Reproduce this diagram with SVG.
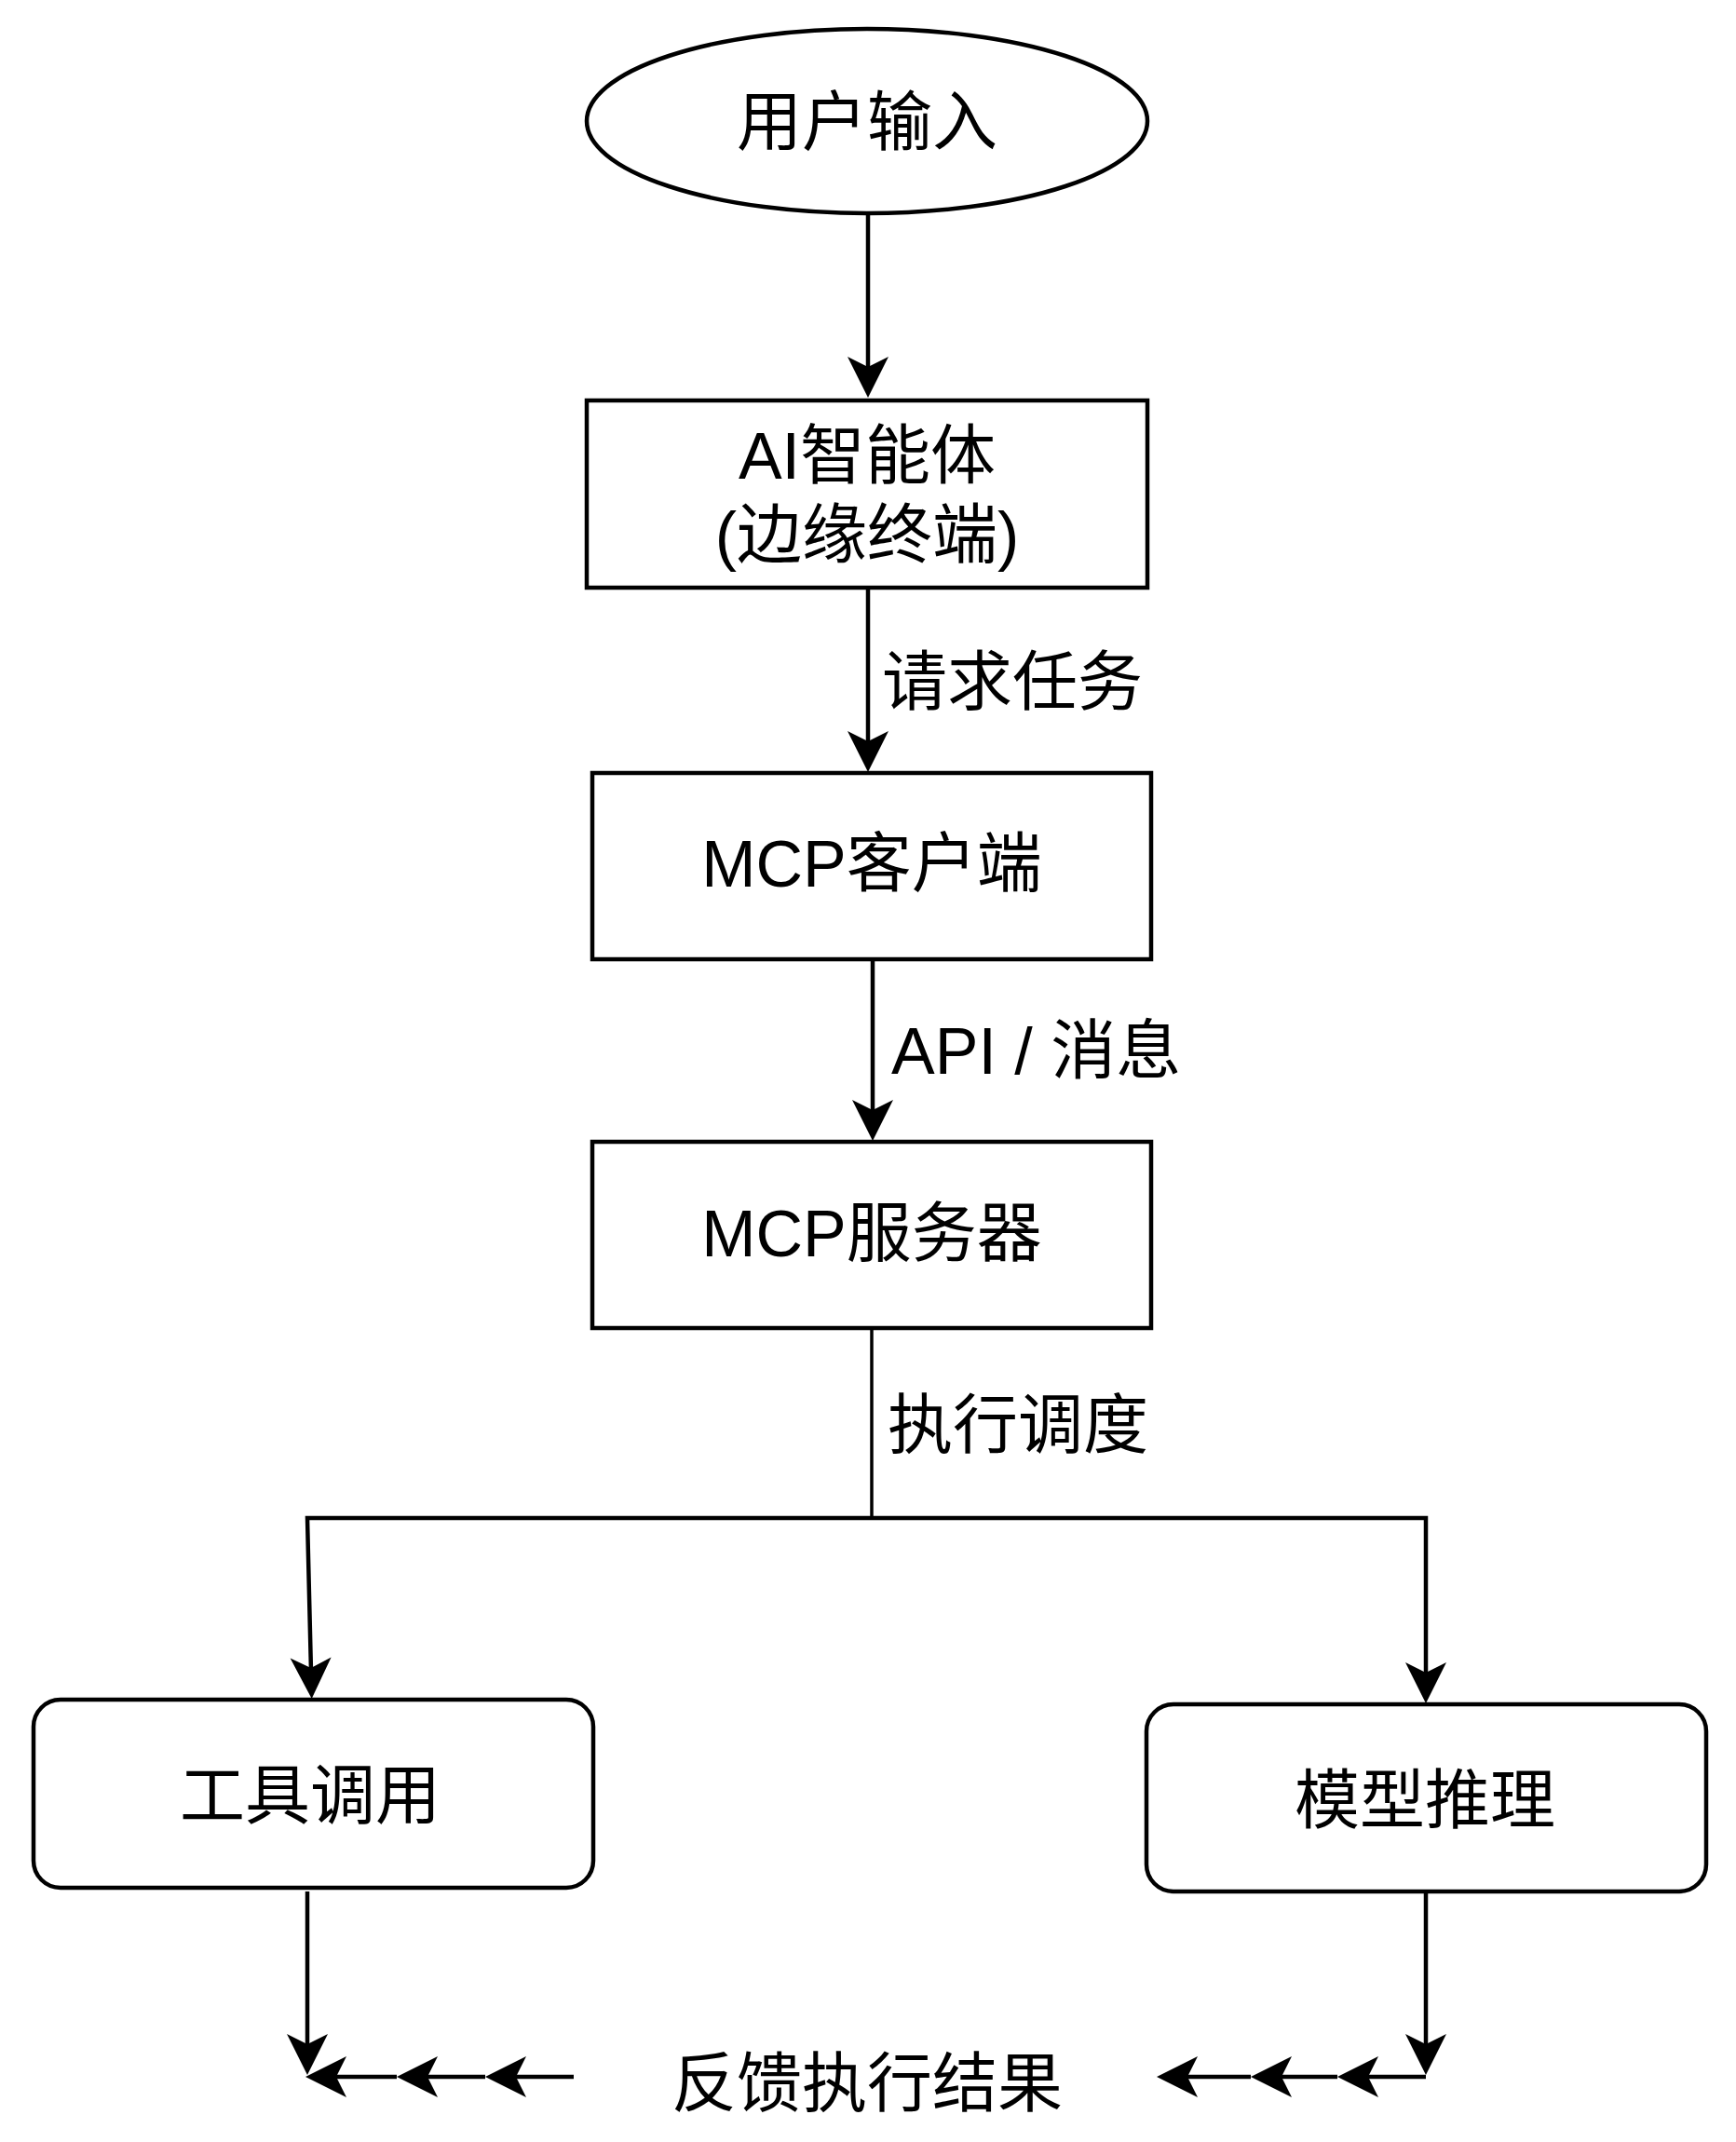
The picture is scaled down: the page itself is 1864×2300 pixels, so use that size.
<svg xmlns="http://www.w3.org/2000/svg" width="1864" height="2300" viewBox="0 0 1864 2300">
<style>
.node{fill:#ffffff;stroke:#000000;stroke-width:4.5}
.lbl{font-family:"Liberation Sans","Noto Sans CJK SC",sans-serif;font-size:70px;fill:#000000}
.c{text-anchor:middle}
.edge{fill:none;stroke:#000000;stroke-width:4.5}
.thin{stroke-width:3.5}
</style>
<defs>
<marker id="arr" viewBox="-46 -24 48 48" markerWidth="48" markerHeight="48" refX="-8" refY="0" orient="auto" markerUnits="userSpaceOnUse">
<path d="M0,0 L-44,-22 L-33,0 L-44,22 Z" fill="#000000"/>
</marker>
</defs>
<rect width="1864" height="2300" fill="#ffffff"/>
<g id="connectors">
<path class="edge" d="M932,230 L932,419" marker-end="url(#arr)"/>
<path class="edge" d="M932,626 L932,821" marker-end="url(#arr)"/>
<path class="edge" d="M937,1027 L937,1217" marker-end="url(#arr)"/>
<path class="edge thin" d="M936,1426 L936,1630"/>
<path class="edge" d="M936,1630 L330,1630 L334.5,1816" marker-end="url(#arr)"/>
<path class="edge" d="M936,1630 L1531,1630 L1531,1821" marker-end="url(#arr)"/>
<path class="edge" d="M330,2031 L330,2220" marker-end="url(#arr)"/>
<path class="edge" d="M1531,2032 L1531,2220" marker-end="url(#arr)"/>
<path class="edge" d="M616,2230 L529,2230" marker-end="url(#arr)"/>
<path class="edge" d="M521,2230 L434,2230" marker-end="url(#arr)"/>
<path class="edge" d="M426,2230 L336,2230" marker-end="url(#arr)"/>
<path class="edge" d="M1531,2230 L1444,2230" marker-end="url(#arr)"/>
<path class="edge" d="M1436,2230 L1351,2230" marker-end="url(#arr)"/>
<path class="edge" d="M1343,2230 L1250,2230" marker-end="url(#arr)"/>
<text class="lbl" x="947" y="757">请求任务</text>
<text class="lbl" x="957" y="1153">API / 消息</text>
<text class="lbl" x="953" y="1555">执行调度</text>
<text class="lbl c" x="931" y="2262">反馈执行结果</text>
</g>
<g id="user-input">
<ellipse class="node" cx="931" cy="130" rx="301" ry="99"/>
<text class="lbl c" x="931" y="156">用户输入</text>
</g>
<g id="ai-agent">
<rect class="node" x="630" y="430" width="602" height="201"/>
<text class="lbl c" x="931" y="514">AI智能体</text>
<text class="lbl c" x="931" y="599">(边缘终端)</text>
</g>
<g id="mcp-client">
<rect class="node" x="636" y="830" width="600" height="200"/>
<text class="lbl c" x="936" y="952">MCP客户端</text>
</g>
<g id="mcp-server">
<rect class="node" x="636" y="1226" width="600" height="200"/>
<text class="lbl c" x="936" y="1349">MCP服务器</text>
</g>
<g id="tool-call">
<rect class="node" x="36" y="1825" width="601" height="202" rx="29" ry="29"/>
<text class="lbl c" x="333" y="1953">工具调用</text>
</g>
<g id="model-inference">
<rect class="node" x="1231" y="1830" width="601" height="201" rx="29" ry="29"/>
<text class="lbl c" x="1530" y="1958">模型推理</text>
</g>
</svg>
